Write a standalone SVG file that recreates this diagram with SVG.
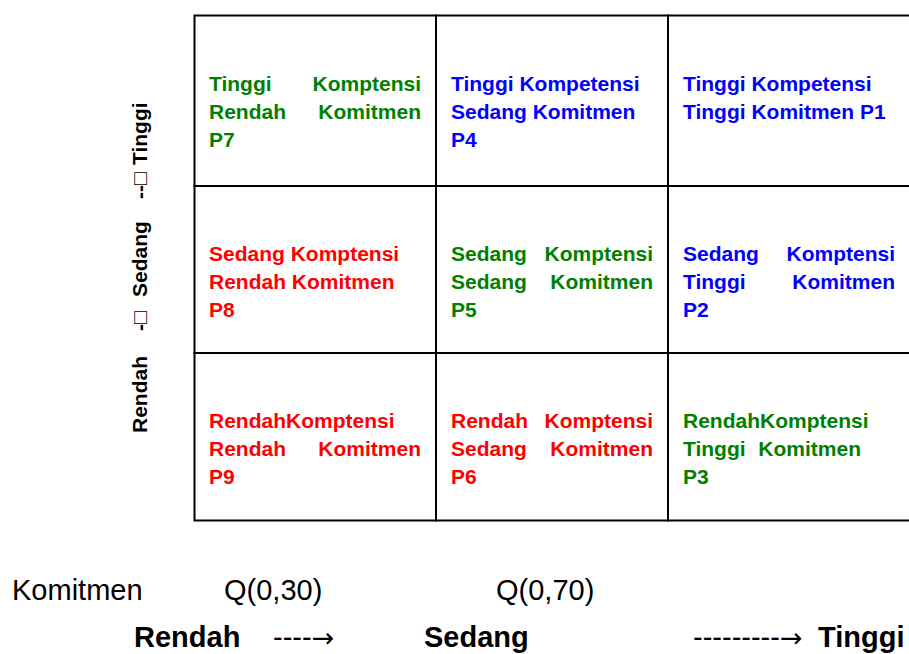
<svg xmlns="http://www.w3.org/2000/svg" width="909" height="654" viewBox="0 0 909 654">
<style>
.cell{fill:#ffffff;stroke:#000000;stroke-width:2}
.t{font-family:"Liberation Sans",Arial,sans-serif;font-weight:bold;font-size:21px}
.g{fill:#008000}
.r{fill:#ff0000}
.b{fill:#0000ff}
.e{text-anchor:end}
.ax{font-family:"Liberation Sans","DejaVu Sans",Arial,sans-serif;font-weight:bold;font-size:21px;fill:#000000}
.bot{font-family:"Liberation Sans","DejaVu Sans",Arial,sans-serif;font-size:29px;fill:#000000}
.botb{font-family:"Liberation Sans","DejaVu Sans",Arial,sans-serif;font-size:29px;font-weight:bold;fill:#000000}
.arr{font-family:"DejaVu Sans",sans-serif;font-size:27px}
</style>
<rect x="0" y="0" width="909" height="654" fill="#ffffff"/>

<g id="P7">
<rect class="cell" x="194.5" y="15.5" width="241.5" height="170.5"/>
<text class="t g" x="209" y="91">Tinggi</text>
<text class="t g e" x="421" y="91">Komptensi</text>
<text class="t g" x="209" y="119">Rendah</text>
<text class="t g e" x="421" y="119">Komitmen</text>
<text class="t g" x="209" y="147">P7</text>
</g>
<g id="P4">
<rect class="cell" x="436" y="15.5" width="232" height="170.5"/>
<text class="t b" x="451" y="91">Tinggi Kompetensi</text>
<text class="t b" x="451" y="119">Sedang Komitmen</text>
<text class="t b" x="451" y="147">P4</text>
</g>
<g id="P1">
<rect class="cell" x="668" y="15.5" width="244" height="170.5"/>
<text class="t b" x="683" y="91">Tinggi Kompetensi</text>
<text class="t b" x="683" y="119">Tinggi Komitmen P1</text>
</g>

<g id="P8">
<rect class="cell" x="194.5" y="186" width="241.5" height="167"/>
<text class="t r" x="209" y="261">Sedang Komptensi</text>
<text class="t r" x="209" y="289">Rendah Komitmen</text>
<text class="t r" x="209" y="317">P8</text>
</g>
<g id="P5">
<rect class="cell" x="436" y="186" width="232" height="167"/>
<text class="t g" x="451" y="261">Sedang</text>
<text class="t g e" x="653" y="261">Komptensi</text>
<text class="t g" x="451" y="289">Sedang</text>
<text class="t g e" x="653" y="289">Komitmen</text>
<text class="t g" x="451" y="317">P5</text>
</g>
<g id="P2">
<rect class="cell" x="668" y="186" width="244" height="167"/>
<text class="t b" x="683" y="261">Sedang</text>
<text class="t b e" x="895" y="261">Komptensi</text>
<text class="t b" x="683" y="289">Tinggi</text>
<text class="t b e" x="895" y="289">Komitmen</text>
<text class="t b" x="683" y="317">P2</text>
</g>

<g id="P9">
<rect class="cell" x="194.5" y="353" width="241.5" height="167.5"/>
<text class="t r" x="209" y="428">RendahKomptensi</text>
<text class="t r" x="209" y="456">Rendah</text>
<text class="t r e" x="421" y="456">Komitmen</text>
<text class="t r" x="209" y="484">P9</text>
</g>
<g id="P6">
<rect class="cell" x="436" y="353" width="232" height="167.5"/>
<text class="t r" x="451" y="428">Rendah</text>
<text class="t r e" x="653" y="428">Komptensi</text>
<text class="t r" x="451" y="456">Sedang</text>
<text class="t r e" x="653" y="456">Komitmen</text>
<text class="t r" x="451" y="484">P6</text>
</g>
<g id="P3">
<rect class="cell" x="668" y="353" width="244" height="167.5"/>
<text class="t g" x="683" y="428">RendahKomptensi</text>
<text class="t g" x="683" y="456">Tinggi</text>
<text class="t g e" x="861" y="456">Komitmen</text>
<text class="t g" x="683" y="484">P3</text>
</g>

<g id="connectors"></g>

<g id="axis-kompetensi" transform="translate(147,433) rotate(-90)">
<text class="ax" x="0" y="0">Rendah</text>
<text class="ax" x="102" y="0">-□</text>
<text class="ax" x="136" y="0">Sedang</text>
<text class="ax" x="234" y="0">--□</text>
<text class="ax" x="268" y="0">Tinggi</text>
</g>

<g id="axis-komitmen">
<text class="bot" x="12" y="600">Komitmen</text>
<text class="bot" x="224" y="600">Q(0,30)</text>
<text class="bot" x="496" y="600">Q(0,70)</text>
<text class="botb" x="134" y="647">Rendah</text>
<text class="bot" x="273" y="647">----<tspan class="arr">→</tspan></text>
<text class="botb" x="424" y="647">Sedang</text>
<text class="bot" x="693" y="647">---------<tspan class="arr">→</tspan></text>
<text class="botb" x="818" y="647">Tinggi</text>
</g>
</svg>
